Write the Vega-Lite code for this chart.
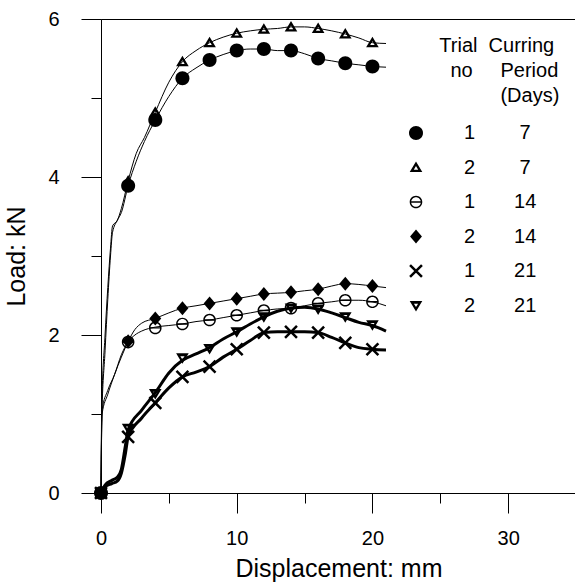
{
  "$schema": "https://vega.github.io/schema/vega-lite/v6.json",
  "width": 475,
  "height": 474,
  "autosize": {"type": "none"},
  "padding": {"left": 101, "top": 19, "right": 0, "bottom": 90},
  "background": "white",
  "config": {
    "view": {"stroke": "black", "strokeWidth": 1},
    "font": "Liberation Sans",
    "legend": {
      "orient": "none", "legendX": 305, "legendY": 17, "padding": 0,
      "titleFont": "Liberation Sans", "titleFontSize": 20, "titleFontWeight": "normal", "titleColor": "black",
      "titleLineHeight": 25, "titlePadding": 17, "titleAlign": "left",
      "labelFont": "Liberation Sans", "labelFontSize": 20, "labelColor": "black", "labelOffset": 38,
      "symbolSize": 196, "symbolFillColor": "black", "symbolStrokeWidth": 0, "rowPadding": 14.5
    },
    "axis": {
      "grid": false, "domainColor": "black", "tickColor": "black", "labelColor": "black", "titleColor": "black",
      "labelFont": "Liberation Sans", "titleFont": "Liberation Sans",
      "labelFontSize": 20, "titleFontSize": 25, "titleFontWeight": "normal",
      "labelFlush": false, "labelOverlap": false
    }
  },
  "datasets": {
    "curves": [
      {"series": "1|7", "disp": 0, "load": 0}, {"series": "1|7", "disp": 0.05, "load": 0.9}, {"series": "1|7", "disp": 0.3, "load": 1.8}, {"series": "1|7", "disp": 0.5, "load": 2.45}, {"series": "1|7", "disp": 0.7, "load": 3.0}, {"series": "1|7", "disp": 0.85, "load": 3.3}, {"series": "1|7", "disp": 1.2, "load": 3.45}, {"series": "1|7", "disp": 1.5, "load": 3.55}, {"series": "1|7", "disp": 2, "load": 3.89}, {"series": "1|7", "disp": 2.6, "load": 4.2}, {"series": "1|7", "disp": 3.2, "load": 4.45}, {"series": "1|7", "disp": 4, "load": 4.72}, {"series": "1|7", "disp": 5, "load": 5.02}, {"series": "1|7", "disp": 6, "load": 5.25}, {"series": "1|7", "disp": 7, "load": 5.38}, {"series": "1|7", "disp": 8, "load": 5.48}, {"series": "1|7", "disp": 9, "load": 5.55}, {"series": "1|7", "disp": 10, "load": 5.6}, {"series": "1|7", "disp": 11, "load": 5.62}, {"series": "1|7", "disp": 12, "load": 5.62}, {"series": "1|7", "disp": 13, "load": 5.6}, {"series": "1|7", "disp": 14, "load": 5.6}, {"series": "1|7", "disp": 15, "load": 5.56}, {"series": "1|7", "disp": 16, "load": 5.5}, {"series": "1|7", "disp": 17, "load": 5.47}, {"series": "1|7", "disp": 18, "load": 5.44}, {"series": "1|7", "disp": 19, "load": 5.42}, {"series": "1|7", "disp": 20, "load": 5.4}, {"series": "1|7", "disp": 21, "load": 5.39},
      {"series": "2|7", "disp": 0, "load": 0}, {"series": "2|7", "disp": 0.05, "load": 1.05}, {"series": "2|7", "disp": 0.3, "load": 2.0}, {"series": "2|7", "disp": 0.5, "load": 2.6}, {"series": "2|7", "disp": 0.7, "load": 3.1}, {"series": "2|7", "disp": 0.85, "load": 3.38}, {"series": "2|7", "disp": 1.2, "load": 3.45}, {"series": "2|7", "disp": 1.5, "load": 3.6}, {"series": "2|7", "disp": 2, "load": 3.95}, {"series": "2|7", "disp": 2.6, "load": 4.3}, {"series": "2|7", "disp": 3.2, "load": 4.5}, {"series": "2|7", "disp": 4, "load": 4.82}, {"series": "2|7", "disp": 5, "load": 5.2}, {"series": "2|7", "disp": 6, "load": 5.46}, {"series": "2|7", "disp": 7, "load": 5.6}, {"series": "2|7", "disp": 8, "load": 5.7}, {"series": "2|7", "disp": 9, "load": 5.77}, {"series": "2|7", "disp": 10, "load": 5.82}, {"series": "2|7", "disp": 11, "load": 5.85}, {"series": "2|7", "disp": 12, "load": 5.87}, {"series": "2|7", "disp": 13, "load": 5.88}, {"series": "2|7", "disp": 14, "load": 5.9}, {"series": "2|7", "disp": 15, "load": 5.9}, {"series": "2|7", "disp": 16, "load": 5.88}, {"series": "2|7", "disp": 17, "load": 5.85}, {"series": "2|7", "disp": 18, "load": 5.81}, {"series": "2|7", "disp": 19, "load": 5.76}, {"series": "2|7", "disp": 20, "load": 5.7}, {"series": "2|7", "disp": 21, "load": 5.69},
      {"series": "1|14", "disp": 0, "load": 0}, {"series": "1|14", "disp": 0.08, "load": 1.0}, {"series": "1|14", "disp": 0.5, "load": 1.25}, {"series": "1|14", "disp": 1, "load": 1.5}, {"series": "1|14", "disp": 1.5, "load": 1.72}, {"series": "1|14", "disp": 2, "load": 1.91}, {"series": "1|14", "disp": 2.5, "load": 2.0}, {"series": "1|14", "disp": 3, "load": 2.05}, {"series": "1|14", "disp": 4, "load": 2.1}, {"series": "1|14", "disp": 5, "load": 2.12}, {"series": "1|14", "disp": 6, "load": 2.14}, {"series": "1|14", "disp": 7, "load": 2.17}, {"series": "1|14", "disp": 8, "load": 2.19}, {"series": "1|14", "disp": 9, "load": 2.22}, {"series": "1|14", "disp": 10, "load": 2.25}, {"series": "1|14", "disp": 11, "load": 2.28}, {"series": "1|14", "disp": 12, "load": 2.31}, {"series": "1|14", "disp": 13, "load": 2.33}, {"series": "1|14", "disp": 14, "load": 2.34}, {"series": "1|14", "disp": 15, "load": 2.37}, {"series": "1|14", "disp": 16, "load": 2.4}, {"series": "1|14", "disp": 17, "load": 2.42}, {"series": "1|14", "disp": 18, "load": 2.44}, {"series": "1|14", "disp": 19, "load": 2.44}, {"series": "1|14", "disp": 20, "load": 2.42}, {"series": "1|14", "disp": 21, "load": 2.37},
      {"series": "2|14", "disp": 0, "load": 0}, {"series": "2|14", "disp": 0.08, "load": 1.05}, {"series": "2|14", "disp": 0.5, "load": 1.3}, {"series": "2|14", "disp": 1, "load": 1.5}, {"series": "2|14", "disp": 1.5, "load": 1.75}, {"series": "2|14", "disp": 2, "load": 1.92}, {"series": "2|14", "disp": 2.5, "load": 2.07}, {"series": "2|14", "disp": 3, "load": 2.15}, {"series": "2|14", "disp": 4, "load": 2.21}, {"series": "2|14", "disp": 5, "load": 2.28}, {"series": "2|14", "disp": 6, "load": 2.34}, {"series": "2|14", "disp": 7, "load": 2.37}, {"series": "2|14", "disp": 8, "load": 2.4}, {"series": "2|14", "disp": 9, "load": 2.43}, {"series": "2|14", "disp": 10, "load": 2.46}, {"series": "2|14", "disp": 11, "load": 2.49}, {"series": "2|14", "disp": 12, "load": 2.52}, {"series": "2|14", "disp": 13, "load": 2.53}, {"series": "2|14", "disp": 14, "load": 2.54}, {"series": "2|14", "disp": 15, "load": 2.56}, {"series": "2|14", "disp": 16, "load": 2.58}, {"series": "2|14", "disp": 17, "load": 2.62}, {"series": "2|14", "disp": 18, "load": 2.65}, {"series": "2|14", "disp": 19, "load": 2.64}, {"series": "2|14", "disp": 20, "load": 2.62}, {"series": "2|14", "disp": 21, "load": 2.6},
      {"series": "1|21", "disp": 0, "load": 0}, {"series": "1|21", "disp": 0.3, "load": 0.08}, {"series": "1|21", "disp": 0.8, "load": 0.12}, {"series": "1|21", "disp": 1.2, "load": 0.15}, {"series": "1|21", "disp": 1.5, "load": 0.25}, {"series": "1|21", "disp": 1.8, "load": 0.5}, {"series": "1|21", "disp": 2, "load": 0.71}, {"series": "1|21", "disp": 3, "load": 0.95}, {"series": "1|21", "disp": 4, "load": 1.14}, {"series": "1|21", "disp": 5, "load": 1.33}, {"series": "1|21", "disp": 6, "load": 1.47}, {"series": "1|21", "disp": 7, "load": 1.53}, {"series": "1|21", "disp": 8, "load": 1.6}, {"series": "1|21", "disp": 9, "load": 1.72}, {"series": "1|21", "disp": 10, "load": 1.82}, {"series": "1|21", "disp": 11, "load": 1.93}, {"series": "1|21", "disp": 12, "load": 2.03}, {"series": "1|21", "disp": 13, "load": 2.04}, {"series": "1|21", "disp": 14, "load": 2.04}, {"series": "1|21", "disp": 15, "load": 2.04}, {"series": "1|21", "disp": 16, "load": 2.03}, {"series": "1|21", "disp": 17, "load": 1.97}, {"series": "1|21", "disp": 18, "load": 1.9}, {"series": "1|21", "disp": 19, "load": 1.84}, {"series": "1|21", "disp": 20, "load": 1.82}, {"series": "1|21", "disp": 21, "load": 1.81},
      {"series": "2|21", "disp": 0, "load": 0}, {"series": "2|21", "disp": 0.3, "load": 0.1}, {"series": "2|21", "disp": 0.8, "load": 0.16}, {"series": "2|21", "disp": 1.2, "load": 0.2}, {"series": "2|21", "disp": 1.5, "load": 0.3}, {"series": "2|21", "disp": 1.8, "load": 0.6}, {"series": "2|21", "disp": 2, "load": 0.8}, {"series": "2|21", "disp": 3, "load": 1.05}, {"series": "2|21", "disp": 4, "load": 1.27}, {"series": "2|21", "disp": 5, "load": 1.52}, {"series": "2|21", "disp": 6, "load": 1.68}, {"series": "2|21", "disp": 7, "load": 1.76}, {"series": "2|21", "disp": 8, "load": 1.84}, {"series": "2|21", "disp": 9, "load": 1.95}, {"series": "2|21", "disp": 10, "load": 2.04}, {"series": "2|21", "disp": 11, "load": 2.14}, {"series": "2|21", "disp": 12, "load": 2.23}, {"series": "2|21", "disp": 13, "load": 2.3}, {"series": "2|21", "disp": 14, "load": 2.34}, {"series": "2|21", "disp": 15, "load": 2.35}, {"series": "2|21", "disp": 16, "load": 2.33}, {"series": "2|21", "disp": 17, "load": 2.28}, {"series": "2|21", "disp": 18, "load": 2.22}, {"series": "2|21", "disp": 19, "load": 2.16}, {"series": "2|21", "disp": 20, "load": 2.12}, {"series": "2|21", "disp": 21, "load": 2.05}
    ],
    "readings": [
      {"series": "1|7", "disp": 0, "load": 0}, {"series": "1|7", "disp": 2, "load": 3.89}, {"series": "1|7", "disp": 4, "load": 4.72}, {"series": "1|7", "disp": 6, "load": 5.25}, {"series": "1|7", "disp": 8, "load": 5.48}, {"series": "1|7", "disp": 10, "load": 5.6}, {"series": "1|7", "disp": 12, "load": 5.62}, {"series": "1|7", "disp": 14, "load": 5.6}, {"series": "1|7", "disp": 16, "load": 5.5}, {"series": "1|7", "disp": 18, "load": 5.44}, {"series": "1|7", "disp": 20, "load": 5.4},
      {"series": "2|7", "disp": 0, "load": 0}, {"series": "2|7", "disp": 2, "load": 3.95}, {"series": "2|7", "disp": 4, "load": 4.82}, {"series": "2|7", "disp": 6, "load": 5.46}, {"series": "2|7", "disp": 8, "load": 5.7}, {"series": "2|7", "disp": 10, "load": 5.82}, {"series": "2|7", "disp": 12, "load": 5.87}, {"series": "2|7", "disp": 14, "load": 5.9}, {"series": "2|7", "disp": 16, "load": 5.88}, {"series": "2|7", "disp": 18, "load": 5.81}, {"series": "2|7", "disp": 20, "load": 5.7},
      {"series": "1|14", "disp": 0, "load": 0}, {"series": "1|14", "disp": 2, "load": 1.91}, {"series": "1|14", "disp": 4, "load": 2.09}, {"series": "1|14", "disp": 6, "load": 2.14}, {"series": "1|14", "disp": 8, "load": 2.19}, {"series": "1|14", "disp": 10, "load": 2.25}, {"series": "1|14", "disp": 12, "load": 2.31}, {"series": "1|14", "disp": 14, "load": 2.34}, {"series": "1|14", "disp": 16, "load": 2.4}, {"series": "1|14", "disp": 18, "load": 2.44}, {"series": "1|14", "disp": 20, "load": 2.42},
      {"series": "2|14", "disp": 0, "load": 0}, {"series": "2|14", "disp": 2, "load": 1.92}, {"series": "2|14", "disp": 4, "load": 2.21}, {"series": "2|14", "disp": 6, "load": 2.34}, {"series": "2|14", "disp": 8, "load": 2.4}, {"series": "2|14", "disp": 10, "load": 2.46}, {"series": "2|14", "disp": 12, "load": 2.52}, {"series": "2|14", "disp": 14, "load": 2.54}, {"series": "2|14", "disp": 16, "load": 2.58}, {"series": "2|14", "disp": 18, "load": 2.65}, {"series": "2|14", "disp": 20, "load": 2.62},
      {"series": "1|21", "disp": 0, "load": 0}, {"series": "1|21", "disp": 2, "load": 0.71}, {"series": "1|21", "disp": 4, "load": 1.14}, {"series": "1|21", "disp": 6, "load": 1.47}, {"series": "1|21", "disp": 8, "load": 1.6}, {"series": "1|21", "disp": 10, "load": 1.82}, {"series": "1|21", "disp": 12, "load": 2.03}, {"series": "1|21", "disp": 14, "load": 2.04}, {"series": "1|21", "disp": 16, "load": 2.03}, {"series": "1|21", "disp": 18, "load": 1.9}, {"series": "1|21", "disp": 20, "load": 1.82},
      {"series": "2|21", "disp": 0, "load": 0}, {"series": "2|21", "disp": 2, "load": 0.82}, {"series": "2|21", "disp": 4, "load": 1.26}, {"series": "2|21", "disp": 6, "load": 1.71}, {"series": "2|21", "disp": 8, "load": 1.83}, {"series": "2|21", "disp": 10, "load": 2.04}, {"series": "2|21", "disp": 12, "load": 2.23}, {"series": "2|21", "disp": 14, "load": 2.34}, {"series": "2|21", "disp": 16, "load": 2.33}, {"series": "2|21", "disp": 18, "load": 2.23}, {"series": "2|21", "disp": 20, "load": 2.13}
    ]
  },
  "resolve": {"axis": {"x": "independent", "y": "independent"}, "scale": {"strokeWidth": "independent"}, "legend": {"strokeWidth": "independent"}},
  "layer": [
    {
      "data": {"name": "curves"},
      "mark": {"type": "line", "color": "black", "interpolate": "monotone"},
      "encoding": {
        "x": {
          "field": "disp", "type": "quantitative",
          "scale": {"domain": [0, 35], "nice": false, "zero": false},
          "axis": {
            "title": "Displacement: mm", "orient": "bottom",
            "values": [0, 10, 20, 30], "format": "d",
            "tickSize": 20, "labelPadding": 15, "titlePadding": 8
          }
        },
        "y": {
          "field": "load", "type": "quantitative",
          "scale": {"domain": [0, 6], "nice": false},
          "axis": {
            "title": "Load: kN", "orient": "left",
            "values": [0, 2, 4, 6], "format": "d",
            "tickSize": 20, "labelPadding": 22, "titlePadding": 18
          }
        },
        "strokeWidth": {
          "field": "series", "type": "ordinal",
          "scale": {"type": "ordinal", "domain": ["1|7", "2|7", "1|14", "2|14", "1|21", "2|21"], "range": [1, 1, 1, 1, 3, 3]},
          "legend": null
        },
        "order": {"field": "disp", "type": "quantitative"}
      }
    },
    {
      "data": {"name": "readings"},
      "mark": {"type": "point", "filled": true, "color": "black", "strokeWidth": 0, "size": 196, "opacity": 1},
      "encoding": {
        "x": {
          "field": "disp", "type": "quantitative",
          "axis": {"title": null, "orient": "bottom", "values": [5, 15, 25], "tickSize": 10, "labels": false, "domain": false}
        },
        "y": {
          "field": "load", "type": "quantitative",
          "axis": {"title": null, "orient": "left", "values": [1, 3, 5], "tickSize": 10, "labels": false, "domain": false}
        },
        "shape": {
          "field": "series", "type": "nominal",
          "scale": {
            "domain": ["1|7", "2|7", "1|14", "2|14", "1|21", "2|21"],
            "range": [
              "M1,0A1,1,0,1,1,-1,0A1,1,0,1,1,1,0Z",
              "M0,-0.85L0.9,0.65L-0.9,0.65ZM0,-0.21L-0.318,0.32L0.318,0.32Z",
              "M0.9,0A0.9,0.9,0,1,1,-0.9,0A0.9,0.9,0,1,1,0.9,0ZM0.69,0A0.69,0.69,0,1,0,-0.69,0A0.69,0.69,0,1,0,0.69,0ZM-0.69,-0.1L0.69,-0.1L0.69,0.1L-0.69,0.1Z",
              "M0,-1L0.85,0L0,1L-0.85,0Z",
              "M-0.723,-0.977L0.977,0.723L0.723,0.977L-0.977,-0.723ZM-0.723,0.977L-0.977,0.723L0.723,-0.977L0.977,-0.723Z",
              "M-0.9,-0.65L0.9,-0.65L0,0.85ZM-0.3,-0.25L0,0.22L0.3,-0.25Z"
            ]
          },
          "legend": {
            "title": [
              "\u200b\u00a0\u00a0\u00a0\u00a0\u00a0\u00a0Trial\u00a0\u00a0Curring",
              "\u200b\u00a0\u00a0\u00a0\u00a0\u00a0\u00a0\u00a0\u00a0no\u00a0\u00a0\u00a0\u00a0\u00a0Period",
              "\u200b\u00a0\u00a0\u00a0\u00a0\u00a0\u00a0\u00a0\u00a0\u00a0\u00a0\u00a0\u00a0\u00a0\u00a0\u00a0\u00a0\u00a0(Days)"
            ],
            "labelExpr": "split(datum.label,'|')[0] + '\u00a0\u00a0\u00a0\u00a0\u00a0\u00a0\u00a0' + (length(split(datum.label,'|')[1]) < 2 ? '\u00a0' : '') + split(datum.label,'|')[1]"
          }
        }
      }
    }
  ]
}
